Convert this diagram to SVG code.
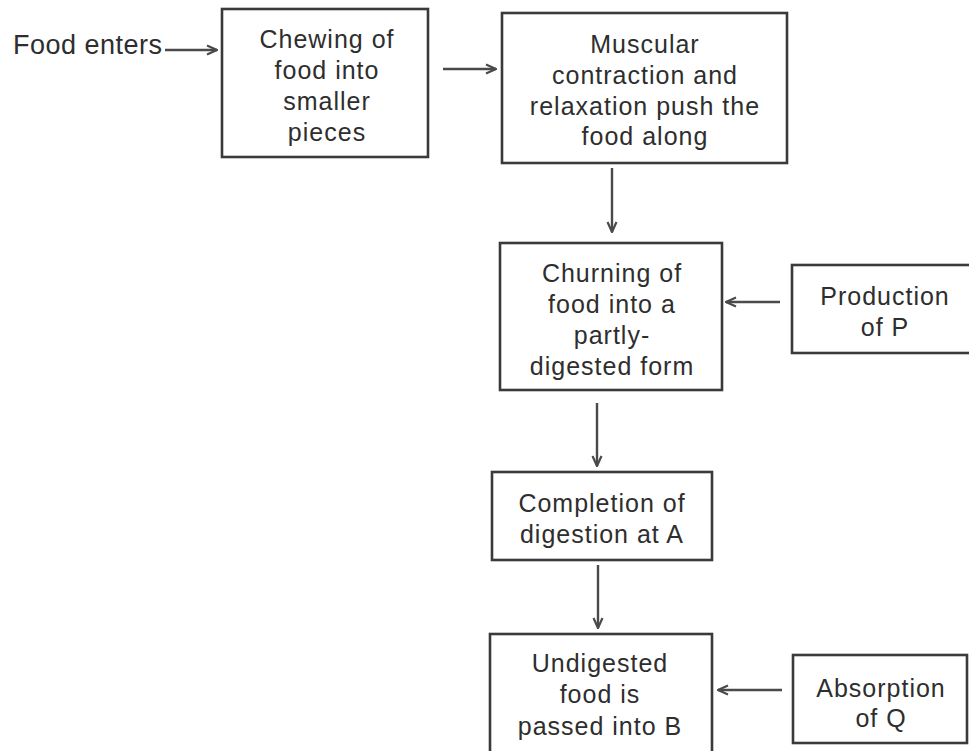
<svg xmlns="http://www.w3.org/2000/svg" width="969" height="751" viewBox="0 0 969 751">
<defs>
<style>
.box{fill:none;stroke:#3a3a3a;stroke-width:2.6}
.t{font-family:"Liberation Sans",Arial,sans-serif;font-size:25px;letter-spacing:1px;fill:#2e2e2e;text-anchor:middle}
.lbl{font-family:"Liberation Sans",Arial,sans-serif;font-size:27px;letter-spacing:0.5px;fill:#2e2e2e}
.c{fill:none;stroke:#4a4a4a;stroke-width:2.4;marker-end:url(#ah)}
</style>
<marker id="ah" viewBox="0 0 12 12" refX="11" refY="6" markerWidth="12" markerHeight="12" markerUnits="userSpaceOnUse" orient="auto">
<path d="M1,1.5 L11,6 L1,10.5" fill="none" stroke="#4a4a4a" stroke-width="2.2"/>
</marker>
</defs>
<rect width="969" height="751" fill="#ffffff"/>
<g id="connectors">
<line class="c" x1="165" y1="50" x2="217" y2="50"/>
<line class="c" x1="443" y1="69" x2="496" y2="69"/>
<line class="c" x1="612" y1="168" x2="612" y2="232"/>
<line class="c" x1="780" y1="302" x2="726" y2="302"/>
<line class="c" x1="597" y1="403" x2="597" y2="466"/>
<line class="c" x1="598" y1="565" x2="598" y2="628"/>
<line class="c" x1="782" y1="690" x2="718" y2="690"/>
</g>
<g id="food-enters">
<text class="lbl" x="13" y="54">Food enters</text>
</g>
<g id="chewing">
<rect class="box" x="222" y="9" width="206" height="148"/>
<text class="t" x="327" y="48">Chewing of</text>
<text class="t" x="327" y="79">food into</text>
<text class="t" x="327" y="110">smaller</text>
<text class="t" x="327" y="141">pieces</text>
</g>
<g id="muscular">
<rect class="box" x="502" y="13" width="285" height="150"/>
<text class="t" x="645" y="53">Muscular</text>
<text class="t" x="645" y="84">contraction and</text>
<text class="t" x="645" y="115">relaxation push the</text>
<text class="t" x="645" y="145">food along</text>
</g>
<g id="churning">
<rect class="box" x="500" y="243" width="222" height="147"/>
<text class="t" x="612" y="282">Churning of</text>
<text class="t" x="612" y="313">food into a</text>
<text class="t" x="612" y="344">partly-</text>
<text class="t" x="612" y="375">digested form</text>
</g>
<g id="production">
<rect class="box" x="792" y="265" width="185" height="88"/>
<text class="t" x="885" y="305">Production</text>
<text class="t" x="885" y="336">of P</text>
</g>
<g id="completion">
<rect class="box" x="492" y="472" width="220" height="88"/>
<text class="t" x="602" y="512">Completion of</text>
<text class="t" x="602" y="543">digestion at A</text>
</g>
<g id="undigested">
<rect class="box" x="490" y="634" width="222" height="125"/>
<text class="t" x="600" y="672">Undigested</text>
<text class="t" x="600" y="703">food is</text>
<text class="t" x="600" y="735">passed into B</text>
</g>
<g id="absorption">
<rect class="box" x="793" y="655" width="174" height="88"/>
<text class="t" x="881" y="697">Absorption</text>
<text class="t" x="881" y="727">of Q</text>
</g>
</svg>
